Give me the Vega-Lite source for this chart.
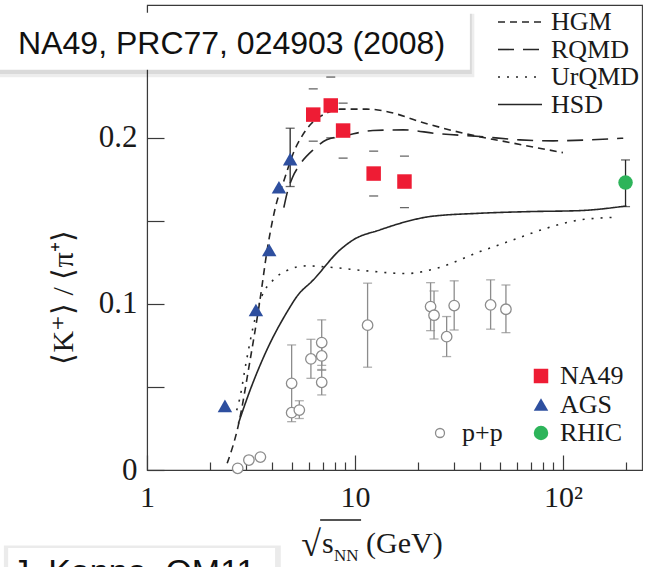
{
  "$schema": "https://vega.github.io/schema/vega-lite/v6.json",
  "width": 495,
  "height": 465,
  "autosize": {"type": "none"},
  "padding": {"left": 147, "top": 5, "right": 6, "bottom": 97},
  "background": "white",
  "config": {
    "view": {"stroke": "#3a3a3a", "strokeWidth": 1.1},
    "axis": {
      "labelFont": "Liberation Serif",
      "labelFontSize": 30,
      "labelColor": "#1a1a1a",
      "domainColor": "#3a3a3a",
      "domainWidth": 1.1,
      "tickColor": "#3a3a3a",
      "tickWidth": 1.2,
      "grid": false,
      "labelFlush": false,
      "labelOverlap": false,
      "titleFont": "Liberation Serif",
      "titleFontWeight": "normal",
      "titleColor": "#1a1a1a"
    },
    "legend": {
      "labelFont": "Liberation Serif",
      "labelFontSize": 26,
      "labelColor": "#1a1a1a",
      "padding": 0
    }
  },
  "datasets": {
    "points": [
      {"set": "NA49", "e": 6.3, "r": 0.214, "lo": 0.198, "hi": 0.2295},
      {"set": "NA49", "e": 7.65, "r": 0.2195, "lo": 0.2, "hi": 0.2366},
      {"set": "NA49", "e": 8.77, "r": 0.2044, "lo": 0.1878, "hi": 0.2209},
      {"set": "NA49", "e": 12.3, "r": 0.1785, "lo": 0.165, "hi": 0.192},
      {"set": "NA49", "e": 17.3, "r": 0.1737, "lo": 0.158, "hi": 0.189},
      {"set": "AGS", "e": 2.37, "r": 0.0386},
      {"set": "AGS", "e": 3.34, "r": 0.0964},
      {"set": "AGS", "e": 3.87, "r": 0.1325},
      {"set": "AGS", "e": 4.31, "r": 0.1703},
      {"set": "AGS", "e": 4.88, "r": 0.1872, "lo": 0.1707, "hi": 0.2058},
      {"set": "RHIC", "e": 200, "r": 0.1731, "lo": 0.1586, "hi": 0.1867},
      {"set": "p+p", "e": 2.73, "r": 0.001},
      {"set": "p+p", "e": 3.09, "r": 0.006},
      {"set": "p+p", "e": 3.51, "r": 0.0078},
      {"set": "p+p", "e": 4.96, "r": 0.0522, "lo": 0.0291, "hi": 0.0753},
      {"set": "p+p", "e": 4.96, "r": 0.0345},
      {"set": "p+p", "e": 5.4, "r": 0.0361, "lo": 0.031, "hi": 0.0417},
      {"set": "p+p", "e": 6.14, "r": 0.0669, "lo": 0.0552, "hi": 0.0787},
      {"set": "p+p", "e": 6.92, "r": 0.0767, "lo": 0.063, "hi": 0.0904},
      {"set": "p+p", "e": 6.92, "r": 0.0687, "lo": 0.06, "hi": 0.077},
      {"set": "p+p", "e": 6.92, "r": 0.0528, "lo": 0.0452, "hi": 0.0605},
      {"set": "p+p", "e": 11.5, "r": 0.0872, "lo": 0.0619, "hi": 0.1125},
      {"set": "p+p", "e": 23.1, "r": 0.0984, "lo": 0.0839, "hi": 0.1128},
      {"set": "p+p", "e": 24.0, "r": 0.0932, "lo": 0.0789, "hi": 0.1078},
      {"set": "p+p", "e": 27.6, "r": 0.0803, "lo": 0.0683, "hi": 0.0924},
      {"set": "p+p", "e": 30.0, "r": 0.099, "lo": 0.0843, "hi": 0.1139},
      {"set": "p+p", "e": 44.9, "r": 0.0994, "lo": 0.0848, "hi": 0.1145},
      {"set": "p+p", "e": 53.2, "r": 0.0968, "lo": 0.0827, "hi": 0.1114}
    ],
    "curves": [
      {"model": "HGM", "e": 2.43, "r": 0.004},
      {"model": "HGM", "e": 2.75, "r": 0.027},
      {"model": "HGM", "e": 3.13, "r": 0.066},
      {"model": "HGM", "e": 3.49, "r": 0.102},
      {"model": "HGM", "e": 3.8, "r": 0.134},
      {"model": "HGM", "e": 4.2, "r": 0.161},
      {"model": "HGM", "e": 4.52, "r": 0.173},
      {"model": "HGM", "e": 5.14, "r": 0.193},
      {"model": "HGM", "e": 5.44, "r": 0.199},
      {"model": "HGM", "e": 6.19, "r": 0.2088},
      {"model": "HGM", "e": 7.31, "r": 0.2149},
      {"model": "HGM", "e": 8.47, "r": 0.2173},
      {"model": "HGM", "e": 11.4, "r": 0.2173},
      {"model": "HGM", "e": 15.3, "r": 0.2149},
      {"model": "HGM", "e": 20.5, "r": 0.2098},
      {"model": "HGM", "e": 33.2, "r": 0.2028},
      {"model": "HGM", "e": 57.7, "r": 0.1968},
      {"model": "HGM", "e": 100, "r": 0.1911},
      {"model": "RQMD", "e": 4.55, "r": 0.158},
      {"model": "RQMD", "e": 4.7, "r": 0.166},
      {"model": "RQMD", "e": 5.0, "r": 0.176},
      {"model": "RQMD", "e": 5.44, "r": 0.184},
      {"model": "RQMD", "e": 6.3, "r": 0.1928},
      {"model": "RQMD", "e": 7.31, "r": 0.1988},
      {"model": "RQMD", "e": 9.12, "r": 0.2015},
      {"model": "RQMD", "e": 12.2, "r": 0.2044},
      {"model": "RQMD", "e": 17.1, "r": 0.2048},
      {"model": "RQMD", "e": 24.7, "r": 0.2026},
      {"model": "RQMD", "e": 39.9, "r": 0.2008},
      {"model": "RQMD", "e": 62.1, "r": 0.1988},
      {"model": "RQMD", "e": 89.8, "r": 0.1982},
      {"model": "RQMD", "e": 135, "r": 0.1988},
      {"model": "RQMD", "e": 195, "r": 0.1998},
      {"model": "UrQMD", "e": 2.7, "r": 0.036},
      {"model": "UrQMD", "e": 2.78, "r": 0.042},
      {"model": "UrQMD", "e": 3.01, "r": 0.066},
      {"model": "UrQMD", "e": 3.24, "r": 0.0863},
      {"model": "UrQMD", "e": 3.56, "r": 0.1044},
      {"model": "UrQMD", "e": 4.05, "r": 0.1145},
      {"model": "UrQMD", "e": 4.69, "r": 0.12},
      {"model": "UrQMD", "e": 5.86, "r": 0.1229},
      {"model": "UrQMD", "e": 7.58, "r": 0.1221},
      {"model": "UrQMD", "e": 11.4, "r": 0.1199},
      {"model": "UrQMD", "e": 17.7, "r": 0.1183},
      {"model": "UrQMD", "e": 24.7, "r": 0.1215},
      {"model": "UrQMD", "e": 39.9, "r": 0.1315},
      {"model": "UrQMD", "e": 57.7, "r": 0.1386},
      {"model": "UrQMD", "e": 83.5, "r": 0.1456},
      {"model": "UrQMD", "e": 121, "r": 0.1506},
      {"model": "UrQMD", "e": 185, "r": 0.1522},
      {"model": "HSD", "e": 2.75, "r": 0.028},
      {"model": "HSD", "e": 3.13, "r": 0.048},
      {"model": "HSD", "e": 3.76, "r": 0.072},
      {"model": "HSD", "e": 4.78, "r": 0.0964},
      {"model": "HSD", "e": 5.25, "r": 0.1044},
      {"model": "HSD", "e": 6.31, "r": 0.1145},
      {"model": "HSD", "e": 8.47, "r": 0.1325},
      {"model": "HSD", "e": 9.82, "r": 0.1386},
      {"model": "HSD", "e": 13.2, "r": 0.1446},
      {"model": "HSD", "e": 17.7, "r": 0.1496},
      {"model": "HSD", "e": 22.9, "r": 0.1526},
      {"model": "HSD", "e": 39.9, "r": 0.1546},
      {"model": "HSD", "e": 69.4, "r": 0.1556},
      {"model": "HSD", "e": 121, "r": 0.1562},
      {"model": "HSD", "e": 202, "r": 0.159}
    ]
  },
  "resolve": {"axis": {"x": "independent", "y": "independent"}},
  "layer": [
    {
      "data": {"name": "curves"},
      "mark": {"type": "line", "interpolate": "monotone", "stroke": "#262626", "strokeWidth": 1.6},
      "encoding": {
        "x": {
          "field": "e", "type": "quantitative",
          "scale": {"type": "log", "domain": [1, 240], "nice": false},
          "axis": {
            "orient": "bottom", "values": [1, 10, 100], "tickSize": -15, "labelPadding": 27,
            "labelExpr": "datum.value >= 100 ? '10²' : format(datum.value, 'd')",
            "title": null
          }
        },
        "y": {
          "field": "r", "type": "quantitative",
          "scale": {"domain": [0, 0.28], "nice": false, "zero": false},
          "axis": {
            "orient": "left", "values": [0, 0.05, 0.1, 0.15, 0.2, 0.25], "tickSize": -17, "labelPadding": 27,
            "labelFontSize": 31,
            "labelExpr": "datum.value == 0 ? '0' : (abs(datum.value * 10 - round(datum.value * 10)) < 0.001 ? format(datum.value, '.1f') : '')",
            "title": "⟨K⁺⟩ / ⟨π⁺⟩", "titleFontSize": 30, "titleAngle": -90,
            "titleX": -84, "titleY": 292, "titleAlign": "center", "titleBaseline": "middle"
          }
        },
        "strokeDash": {
          "field": "model", "type": "nominal",
          "scale": {"domain": ["HGM", "RQMD", "UrQMD", "HSD"], "range": [[7, 5], [16, 9], [2, 7], [1, 0]]},
          "legend": {
            "title": null, "orient": "none", "legendX": 360, "legendY": 4,
            "symbolType": "M-2,0H2", "symbolSize": 484, "symbolStrokeWidth": 1.6,
            "symbolStrokeColor": "#262626", "labelOffset": 18, "rowPadding": 1.5
          }
        }
      }
    },
    {
      "data": {"name": "points"},
      "transform": [{"filter": "isValid(datum.lo) && datum.set != 'NA49'"}],
      "mark": {"type": "rule", "strokeWidth": 1.3},
      "encoding": {
        "x": {
          "field": "e", "type": "quantitative",
          "scale": {"type": "log", "domain": [1, 240], "nice": false},
          "axis": {
            "orient": "bottom", "values": [2, 3, 4, 5, 6, 7, 8, 9, 20, 30, 40, 50, 60, 70, 80, 90, 200],
            "tickSize": -8, "labels": false, "domain": false, "title": null
          }
        },
        "y": {"field": "lo", "type": "quantitative", "scale": {"domain": [0, 0.28], "nice": false, "zero": false}, "axis": null},
        "y2": {"field": "hi"},
        "color": {"condition": {"test": "datum.set == 'p+p'", "value": "#8c8c8c"}, "value": "#262626"}
      }
    },
    {
      "data": {"name": "points"},
      "transform": [{"filter": "isValid(datum.lo)"}],
      "mark": {"type": "tick", "orient": "horizontal", "size": 9, "thickness": 1.3},
      "encoding": {
        "x": {"field": "e", "type": "quantitative", "scale": {"type": "log", "domain": [1, 240], "nice": false}, "axis": null},
        "y": {"field": "lo", "type": "quantitative", "scale": {"domain": [0, 0.28], "nice": false, "zero": false}, "axis": null},
        "color": {"condition": {"test": "datum.set == 'p+p'", "value": "#8c8c8c"}, "value": "#262626"}
      }
    },
    {
      "data": {"name": "points"},
      "transform": [{"filter": "isValid(datum.hi)"}],
      "mark": {"type": "tick", "orient": "horizontal", "size": 9, "thickness": 1.3},
      "encoding": {
        "x": {"field": "e", "type": "quantitative", "scale": {"type": "log", "domain": [1, 240], "nice": false}, "axis": null},
        "y": {"field": "hi", "type": "quantitative", "scale": {"domain": [0, 0.28], "nice": false, "zero": false}, "axis": null},
        "color": {"condition": {"test": "datum.set == 'p+p'", "value": "#8c8c8c"}, "value": "#262626"}
      }
    },
    {
      "data": {"name": "points"},
      "transform": [{"filter": "datum.set == 'p+p'"}],
      "mark": {"type": "point", "shape": "circle", "filled": true, "fill": "white", "size": 110, "strokeWidth": 1.3, "opacity": 1},
      "encoding": {
        "x": {"field": "e", "type": "quantitative", "scale": {"type": "log", "domain": [1, 240], "nice": false}, "axis": null},
        "y": {"field": "r", "type": "quantitative", "scale": {"domain": [0, 0.28], "nice": false, "zero": false}, "axis": null},
        "stroke": {
          "field": "set", "type": "nominal",
          "scale": {"domain": ["p+p"], "range": ["#8c8c8c"]},
          "legend": {
            "title": null, "orient": "none", "legendX": 280, "legendY": 415,
            "symbolSize": 81, "symbolStrokeWidth": 1.3, "symbolFillColor": "white", "labelOffset": 9
          }
        }
      }
    },
    {
      "data": {"name": "points"},
      "transform": [{"filter": "datum.set != 'p+p'"}],
      "mark": {"type": "point", "filled": true, "size": 210, "opacity": 1},
      "encoding": {
        "x": {"field": "e", "type": "quantitative", "scale": {"type": "log", "domain": [1, 240], "nice": false}, "axis": null},
        "y": {"field": "r", "type": "quantitative", "scale": {"domain": [0, 0.28], "nice": false, "zero": false}, "axis": null},
        "color": {
          "field": "set", "type": "nominal",
          "scale": {"domain": ["NA49", "AGS", "RHIC"], "range": ["#ee1c34", "#2e4f9f", "#2db45a"]},
          "legend": {
            "title": null, "orient": "none", "legendX": 381, "legendY": 358,
            "symbolSize": 210, "symbolStrokeWidth": 0, "labelOffset": 6, "rowPadding": 2.5
          }
        },
        "shape": {
          "field": "set", "type": "nominal",
          "scale": {"domain": ["NA49", "AGS", "RHIC"], "range": ["square", "triangle-up", "circle"]},
          "legend": {
            "title": null, "orient": "none", "legendX": 381, "legendY": 358,
            "symbolSize": 210, "symbolStrokeWidth": 0, "labelOffset": 6, "rowPadding": 2.5
          }
        }
      }
    },
    {
      "data": {"values": [{}]},
      "mark": {"type": "text", "font": "Liberation Serif", "fontSize": 36, "align": "right", "baseline": "alphabetic", "color": "#1a1a1a"},
      "encoding": {
        "x": {"datum": 6.86, "type": "quantitative", "scale": {"type": "log", "domain": [1, 240], "nice": false}, "axis": null},
        "y": {"datum": -0.0518, "type": "quantitative", "scale": {"domain": [0, 0.28], "nice": false, "zero": false}, "axis": null},
        "text": {"value": "√"}
      }
    },
    {
      "data": {"values": [{}]},
      "mark": {"type": "rule", "strokeWidth": 1.3, "color": "#1a1a1a"},
      "encoding": {
        "x": {"datum": 6.8, "type": "quantitative", "scale": {"type": "log", "domain": [1, 240], "nice": false}, "axis": null},
        "x2": {"datum": 10.7},
        "y": {"datum": -0.0301, "type": "quantitative", "scale": {"domain": [0, 0.28], "nice": false, "zero": false}, "axis": null}
      }
    },
    {
      "data": {"values": [{}]},
      "mark": {"type": "text", "font": "Liberation Serif", "fontSize": 30, "align": "left", "baseline": "alphabetic", "color": "#1a1a1a"},
      "encoding": {
        "x": {"datum": 6.95, "type": "quantitative", "scale": {"type": "log", "domain": [1, 240], "nice": false}, "axis": null},
        "y": {"datum": -0.05, "type": "quantitative", "scale": {"domain": [0, 0.28], "nice": false, "zero": false}, "axis": null},
        "text": {"value": "s"}
      }
    },
    {
      "data": {"values": [{}]},
      "mark": {"type": "text", "font": "Liberation Serif", "fontSize": 17, "align": "left", "baseline": "alphabetic", "color": "#1a1a1a"},
      "encoding": {
        "x": {"datum": 7.93, "type": "quantitative", "scale": {"type": "log", "domain": [1, 240], "nice": false}, "axis": null},
        "y": {"datum": -0.0548, "type": "quantitative", "scale": {"domain": [0, 0.28], "nice": false, "zero": false}, "axis": null},
        "text": {"value": "NN"}
      }
    },
    {
      "data": {"values": [{}]},
      "mark": {"type": "text", "font": "Liberation Serif", "fontSize": 30, "align": "left", "baseline": "alphabetic", "color": "#1a1a1a"},
      "encoding": {
        "x": {"datum": 11.3, "type": "quantitative", "scale": {"type": "log", "domain": [1, 240], "nice": false}, "axis": null},
        "y": {"datum": -0.05, "type": "quantitative", "scale": {"domain": [0, 0.28], "nice": false, "zero": false}, "axis": null},
        "text": {"value": "(GeV)"}
      }
    },
    {
      "data": {"values": [{}]},
      "mark": {"type": "rect", "fill": "#000000", "opacity": 0.07},
      "encoding": {
        "x": {"datum": 0.19, "type": "quantitative", "scale": {"type": "log", "domain": [1, 240], "nice": false}, "axis": null},
        "x2": {"datum": 37.5},
        "y": {"datum": 0.2747, "type": "quantitative", "scale": {"domain": [0, 0.28], "nice": false, "zero": false}, "axis": null},
        "y2": {"datum": 0.2365}
      }
    },
    {
      "data": {"values": [{}]},
      "mark": {"type": "rect", "fill": "#000000", "opacity": 0.08},
      "encoding": {
        "x": {"datum": 0.19, "type": "quantitative", "scale": {"type": "log", "domain": [1, 240], "nice": false}, "axis": null},
        "x2": {"datum": 36.5},
        "y": {"datum": 0.2747, "type": "quantitative", "scale": {"domain": [0, 0.28], "nice": false, "zero": false}, "axis": null},
        "y2": {"datum": 0.2385}
      }
    },
    {
      "data": {"values": [{}]},
      "mark": {"type": "rect", "fill": "white"},
      "encoding": {
        "x": {"datum": 0.19, "type": "quantitative", "scale": {"type": "log", "domain": [1, 240], "nice": false}, "axis": null},
        "x2": {"datum": 35.7},
        "y": {"datum": 0.2753, "type": "quantitative", "scale": {"domain": [0, 0.28], "nice": false, "zero": false}, "axis": null},
        "y2": {"datum": 0.241}
      }
    },
    {
      "data": {"values": [{}]},
      "mark": {"type": "text", "font": "Liberation Sans", "fontSize": 32, "align": "left", "baseline": "middle", "color": "#111111"},
      "encoding": {
        "x": {"datum": 0.24, "type": "quantitative", "scale": {"type": "log", "domain": [1, 240], "nice": false}, "axis": null},
        "y": {"datum": 0.2565, "type": "quantitative", "scale": {"domain": [0, 0.28], "nice": false, "zero": false}, "axis": null},
        "text": {"value": "NA49, PRC77, 024903 (2008)"}
      }
    },
    {
      "data": {"values": [{}]},
      "mark": {"type": "rect", "fill": "#000000", "opacity": 0.08},
      "encoding": {
        "x": {"datum": 0.205, "type": "quantitative", "scale": {"type": "log", "domain": [1, 240], "nice": false}, "axis": null},
        "x2": {"datum": 4.4},
        "y": {"datum": -0.0455, "type": "quantitative", "scale": {"domain": [0, 0.28], "nice": false, "zero": false}, "axis": null},
        "y2": {"datum": -0.07}
      }
    },
    {
      "data": {"values": [{}]},
      "mark": {"type": "rect", "fill": "white"},
      "encoding": {
        "x": {"datum": 0.215, "type": "quantitative", "scale": {"type": "log", "domain": [1, 240], "nice": false}, "axis": null},
        "x2": {"datum": 4.13},
        "y": {"datum": -0.047, "type": "quantitative", "scale": {"domain": [0, 0.28], "nice": false, "zero": false}, "axis": null},
        "y2": {"datum": -0.07}
      }
    },
    {
      "data": {"values": [{}]},
      "mark": {"type": "text", "font": "Liberation Sans", "fontSize": 34, "align": "left", "baseline": "alphabetic", "color": "#111111"},
      "encoding": {
        "x": {"datum": 0.225, "type": "quantitative", "scale": {"type": "log", "domain": [1, 240], "nice": false}, "axis": null},
        "y": {"datum": -0.068, "type": "quantitative", "scale": {"domain": [0, 0.28], "nice": false, "zero": false}, "axis": null},
        "text": {"value": "J. Kanno, QM11"}
      }
    }
  ]
}
